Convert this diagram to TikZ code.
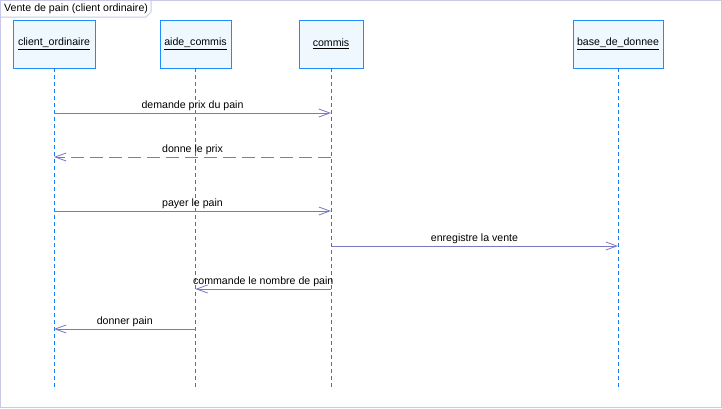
\documentclass[tikz,border=0pt]{standalone}
\usepackage{fontspec}
\setmainfont{Liberation Sans}
\usetikzlibrary{arrows.meta}
\definecolor{framec}{RGB}{200,200,232}
\definecolor{boxb}{RGB}{30,140,255}
\definecolor{boxf}{RGB}{240,248,255}
\definecolor{lifec}{RGB}{20,125,240}
\definecolor{msgc}{RGB}{120,120,195}
\begin{document}
\begin{tikzpicture}[x=1pt,y=-1pt,
  font=\fontsize{10.6}{12}\selectfont,
  objbox/.style={draw=boxb, line width=0.9pt, fill=boxf, minimum height=48pt, inner sep=0pt, text=black},
  lifeline/.style={draw=lifec, line width=0.9pt, dash pattern=on 4pt off 3pt},
  msg/.style={draw=msgc, line width=0.8pt, -{Straight Barb[length=11pt,width=8pt,line width=0.8pt]}},
  retmsg/.style={msg, dash pattern=on 13pt off 6pt},
  lbl/.style={anchor=base, yshift=5pt, inner sep=0pt, text=black}]
\useasboundingbox (0,0) rectangle (722,408);
\fill[white] (0,0) rectangle (722,408);
\draw[framec, line width=1pt] (0.5,0.5) rectangle (721.5,407.5);
\draw[framec, line width=1pt] (0.5,17) -- (146,17) -- (151,12) -- (151,0.5);
\node[anchor=west, inner sep=0pt, text=black] (title) at (4,8.5) {Vente de pain (client ordinaire)};

\node[objbox, minimum width=82pt] (co) at (54,44) {\underline{client\_ordinaire}};
\node[objbox, minimum width=71pt] (ac) at (195.5,44) {\underline{aide\_commis}};
\node[objbox, minimum width=64pt] (cm) at (331,44) {\underline{commis}};
\node[objbox, minimum width=90pt] (bd) at (618,44) {\underline{base\_de\_donnee}};

\coordinate (bot) at (0,388);
\draw[lifeline] (co.south) -- (co |- bot);
\draw[lifeline] (ac.south) -- (ac |- bot);
\draw[lifeline] (cm.south) -- (cm |- bot);
\draw[lifeline] (bd.south) -- (bd |- bot);

\coordinate (y1) at (0,113);
\coordinate (y2) at (0,157);
\coordinate (y3) at (0,211);
\coordinate (y4) at (0,246);
\coordinate (y5) at (0,289);
\coordinate (y6) at (0,329);

\draw[msg] (co |- y1) -- node[lbl] {demande prix du pain} (cm |- y1);
\draw[retmsg] (cm |- y2) -- node[lbl] {donne le prix} (co |- y2);
\draw[msg] (co |- y3) -- node[lbl] {payer le pain} (cm |- y3);
\draw[msg] (cm |- y4) -- node[lbl] {enregistre la vente} (bd |- y4);
\draw[msg] (cm |- y5) -- node[lbl] {commande le nombre de pain} (ac |- y5);
\draw[msg] (ac |- y6) -- node[lbl] {donner pain} (co |- y6);
\end{tikzpicture}
\end{document}
